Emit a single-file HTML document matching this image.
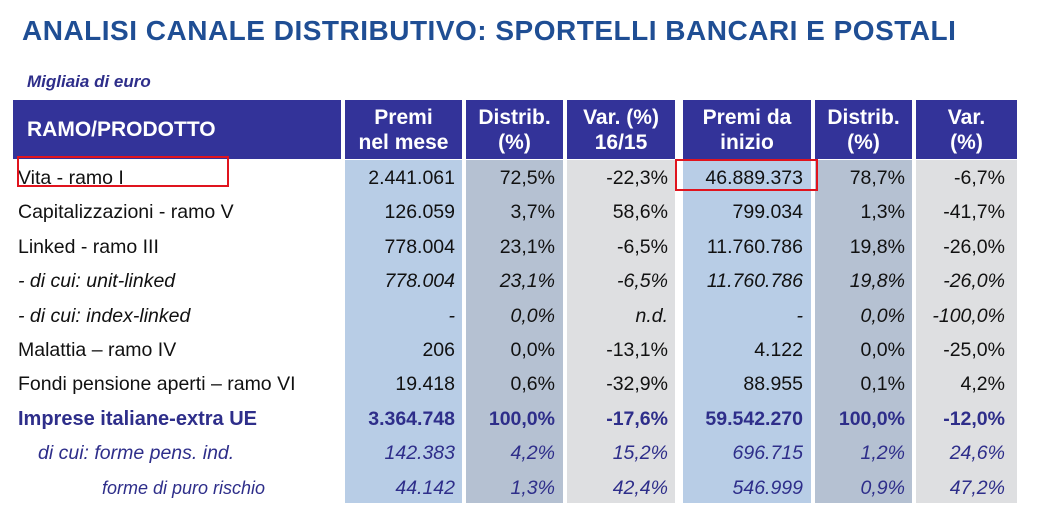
<!DOCTYPE html>
<html><head><meta charset="utf-8"><style>
body{margin:0;width:1040px;height:531px;background:#fff;position:relative;overflow:hidden;font-family:"Liberation Sans",sans-serif}
.a{position:absolute}
.t{left:22px;top:15px;font-size:28px;font-weight:bold;color:#1f4e94;letter-spacing:0.5px}
.m{left:27px;top:72px;font-size:17px;font-style:italic;font-weight:bold;color:#2e2e8a}
.h{background:#333399;color:#fff;font-weight:bold;font-size:21px;text-align:center;line-height:25px;top:100px;height:59px;display:flex;align-items:center;justify-content:center}
.c{top:160px;height:343px}
.r{font-size:19.5px;color:#111;height:34.4px;line-height:34.4px;white-space:nowrap}
.n{text-align:right}
.b{color:#2e2e8a;font-weight:bold}
.i{font-style:italic}
.bl{color:#2e2e8a}
</style></head><body>
<div class="a t">ANALISI CANALE DISTRIBUTIVO: SPORTELLI BANCARI E POSTALI</div>
<div class="a m">Migliaia di euro</div>
<div class="a h" style="left:13px;width:328px;justify-content:flex-start;padding-left:14px;box-sizing:border-box">RAMO/PRODOTTO</div>
<div class="a h" style="left:345px;width:117px">Premi<br>nel mese</div>
<div class="a h" style="left:466px;width:97px">Distrib.<br>(%)</div>
<div class="a h" style="left:567px;width:108px">Var. (%)<br>16/15</div>
<div class="a h" style="left:683px;width:128px">Premi da<br>inizio</div>
<div class="a h" style="left:815px;width:97px">Distrib.<br>(%)</div>
<div class="a h" style="left:916px;width:101px">Var.<br>(%)</div>
<div class="a c" style="left:345px;width:117px;background:#b8cde6"></div>
<div class="a c" style="left:466px;width:97px;background:#b5c1d2"></div>
<div class="a c" style="left:567px;width:108px;background:#dedfe1"></div>
<div class="a c" style="left:683px;width:128px;background:#b8cde6"></div>
<div class="a c" style="left:815px;width:97px;background:#b5c1d2"></div>
<div class="a c" style="left:916px;width:101px;background:#dedfe1"></div>
<div class="a" style="left:18px;top:161px;width:900px">
<div class="r">Vita - ramo I</div>
<div class="r">Capitalizzazioni - ramo V</div>
<div class="r">Linked - ramo III</div>
<div class="r i">- di cui: unit-linked</div>
<div class="r i">- di cui: index-linked</div>
<div class="r">Malattia – ramo IV</div>
<div class="r">Fondi pensione aperti – ramo VI</div>
<div class="r b" style="font-size:20px">Imprese italiane-extra UE</div>
<div class="r i bl" style="padding-left:20px">di cui: forme pens. ind.</div>
<div class="r i bl" style="padding-left:84px;font-size:18px">forme di puro rischio</div>
</div>
<div class="a n" style="left:345px;top:161px;width:110px">
<div class="r">2.441.061</div><div class="r">126.059</div><div class="r">778.004</div><div class="r i">778.004</div><div class="r i">-</div><div class="r">206</div><div class="r">19.418</div><div class="r b">3.364.748</div><div class="r i bl">142.383</div><div class="r i bl">44.142</div></div>
<div class="a n" style="left:466px;top:161px;width:89px">
<div class="r">72,5%</div><div class="r">3,7%</div><div class="r">23,1%</div><div class="r i">23,1%</div><div class="r i">0,0%</div><div class="r">0,0%</div><div class="r">0,6%</div><div class="r b">100,0%</div><div class="r i bl">4,2%</div><div class="r i bl">1,3%</div></div>
<div class="a n" style="left:567px;top:161px;width:101px">
<div class="r">-22,3%</div><div class="r">58,6%</div><div class="r">-6,5%</div><div class="r i">-6,5%</div><div class="r i">n.d.</div><div class="r">-13,1%</div><div class="r">-32,9%</div><div class="r b">-17,6%</div><div class="r i bl">15,2%</div><div class="r i bl">42,4%</div></div>
<div class="a n" style="left:683px;top:161px;width:120px">
<div class="r">46.889.373</div><div class="r">799.034</div><div class="r">11.760.786</div><div class="r i">11.760.786</div><div class="r i">-</div><div class="r">4.122</div><div class="r">88.955</div><div class="r b">59.542.270</div><div class="r i bl">696.715</div><div class="r i bl">546.999</div></div>
<div class="a n" style="left:815px;top:161px;width:90px">
<div class="r">78,7%</div><div class="r">1,3%</div><div class="r">19,8%</div><div class="r i">19,8%</div><div class="r i">0,0%</div><div class="r">0,0%</div><div class="r">0,1%</div><div class="r b">100,0%</div><div class="r i bl">1,2%</div><div class="r i bl">0,9%</div></div>
<div class="a n" style="left:916px;top:161px;width:89px">
<div class="r">-6,7%</div><div class="r">-41,7%</div><div class="r">-26,0%</div><div class="r i">-26,0%</div><div class="r i">-100,0%</div><div class="r">-25,0%</div><div class="r">4,2%</div><div class="r b">-12,0%</div><div class="r i bl">24,6%</div><div class="r i bl">47,2%</div></div>
<div class="a" style="left:17px;top:156px;width:212px;height:31px;border:2px solid #e0141e;box-sizing:border-box"></div>
<div class="a" style="left:675px;top:159px;width:143px;height:32px;border:2px solid #e0141e;box-sizing:border-box"></div>
</body></html>
